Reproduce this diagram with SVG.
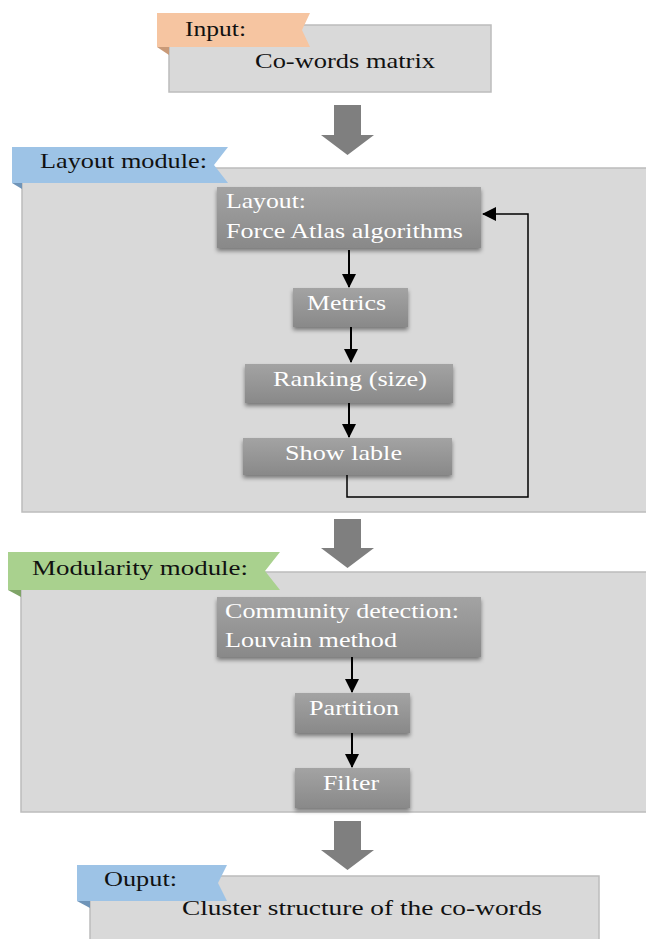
<svg xmlns="http://www.w3.org/2000/svg" width="646" height="939" viewBox="0 0 646 939">
  <defs>
    <linearGradient id="nodeFill" x1="0" y1="0" x2="0" y2="1">
      <stop offset="0" stop-color="#a3a3a3"/>
      <stop offset="1" stop-color="#898989"/>
    </linearGradient>
    <filter id="shadow" x="-10%" y="-20%" width="120%" height="160%">
      <feDropShadow dx="0" dy="3" stdDeviation="2" flood-color="#000" flood-opacity="0.45"/>
    </filter>
    <marker id="head" markerUnits="userSpaceOnUse" markerWidth="14" markerHeight="14" viewBox="0 0 14 14" refX="13" refY="7" orient="auto">
      <path d="M0,0 L14,7 L0,14 Z" fill="#000"/>
    </marker>
  </defs>
  <style>
    .panel { fill: #d9d9d9; stroke: #bcbcbc; stroke-width: 1.5; }
    .node { fill: url(#nodeFill); filter: url(#shadow); }
    .ntext { font-family: "Liberation Serif", "Times New Roman", serif; font-size: 21px; fill: #ffffff; }
    .ttext { font-family: "Liberation Serif", "Times New Roman", serif; font-size: 21px; fill: #111111; }
    .big { fill: #7f7f7f; }
    .link { fill: none; stroke: #000; stroke-width: 2; }
    .loop { fill: none; stroke: #000; stroke-width: 1.5; }
  </style>

  <!-- input block -->
  <g id="input">
    <rect class="panel" x="169" y="25" width="322" height="67"/>
    <polygon points="157,13 310,13 302,30 310,47 157,47" fill="#f6c5a1"/>
    <polygon points="157,47 169,47 169,55" fill="#c99a78"/>
    <text class="ttext" x="185" y="36" textLength="61" lengthAdjust="spacingAndGlyphs">Input:</text>
    <text class="ttext" x="255" y="68" font-size="22" textLength="180" lengthAdjust="spacingAndGlyphs">Co-words matrix</text>
  </g>

  <!-- layout module -->
  <g id="layout-module">
    <rect class="panel" x="22" y="168" width="632" height="344"/>
    <polygon points="12,147 228,147 214,165 228,183 12,183" fill="#9dc3e6"/>
    <polygon points="12,183 22,183 22,189" fill="#6f94b8"/>
    <text class="ttext" x="40" y="168" textLength="167" lengthAdjust="spacingAndGlyphs">Layout module:</text>
  </g>
  <g id="node-force-atlas">
    <rect class="node" x="217" y="187" width="264" height="61"/>
    <text class="ntext" x="226" y="208" textLength="80" lengthAdjust="spacingAndGlyphs">Layout:</text>
    <text class="ntext" x="226" y="238" textLength="237" lengthAdjust="spacingAndGlyphs">Force Atlas algorithms</text>
  </g>
  <g id="node-metrics">
    <rect class="node" x="293" y="288" width="115" height="39"/>
    <text class="ntext" x="307" y="310" textLength="79" lengthAdjust="spacingAndGlyphs">Metrics</text>
  </g>
  <g id="node-ranking">
    <rect class="node" x="245" y="364" width="208" height="39"/>
    <text class="ntext" x="273" y="386" textLength="154" lengthAdjust="spacingAndGlyphs">Ranking (size)</text>
  </g>
  <g id="node-show-label">
    <rect class="node" x="243" y="438" width="209" height="37"/>
    <text class="ntext" x="285" y="460" textLength="117" lengthAdjust="spacingAndGlyphs">Show lable</text>
  </g>

  <!-- modularity module -->
  <g id="modularity-module">
    <rect class="panel" x="21" y="572" width="632" height="240"/>
    <polygon points="8,552 280,552 265,571 280,590 8,590" fill="#a9d18e"/>
    <polygon points="8,590 21,590 21,597" fill="#7fa467"/>
    <text class="ttext" x="32" y="575" textLength="216" lengthAdjust="spacingAndGlyphs">Modularity module:</text>
  </g>
  <g id="node-louvain">
    <rect class="node" x="217" y="597" width="264" height="60"/>
    <text class="ntext" x="225" y="618" textLength="234" lengthAdjust="spacingAndGlyphs">Community detection:</text>
    <text class="ntext" x="225" y="647" textLength="172" lengthAdjust="spacingAndGlyphs">Louvain method</text>
  </g>
  <g id="node-partition">
    <rect class="node" x="295" y="693" width="115" height="40"/>
    <text class="ntext" x="309" y="715" textLength="90" lengthAdjust="spacingAndGlyphs">Partition</text>
  </g>
  <g id="node-filter">
    <rect class="node" x="295" y="768" width="115" height="40"/>
    <text class="ntext" x="323" y="790" textLength="56" lengthAdjust="spacingAndGlyphs">Filter</text>
  </g>

  <!-- output block -->
  <g id="output">
    <rect class="panel" x="90" y="876" width="509" height="70"/>
    <polygon points="77,865 227,865 218,883 227,901 77,901" fill="#9dc3e6"/>
    <polygon points="77,901 90,901 90,908" fill="#6f94b8"/>
    <text class="ttext" x="104" y="886" textLength="73" lengthAdjust="spacingAndGlyphs">Ouput:</text>
    <text class="ttext" x="182" y="915" font-size="22" textLength="360" lengthAdjust="spacingAndGlyphs">Cluster structure of the co-words</text>
  </g>

  <!-- connectors -->
  <g id="connectors">
    <polygon class="big" points="334,105 361,105 361,135 374,135 347.5,155 321,135 334,135"/>
    <polygon class="big" points="334,519 361,519 361,548 374,548 347.5,568 321,548 334,548"/>
    <polygon class="big" points="334,821 361,821 361,850 374,850 347.5,870 321,850 334,850"/>
    <line class="link" x1="349" y1="250" x2="349" y2="287" marker-end="url(#head)"/>
    <line class="link" x1="351" y1="327" x2="351" y2="362" marker-end="url(#head)"/>
    <line class="link" x1="349" y1="403" x2="349" y2="437" marker-end="url(#head)"/>
    <polyline class="loop" points="347,475 347,497 528,497 528,214 483,214" marker-end="url(#head)"/>
    <line class="link" x1="352" y1="657" x2="352" y2="692" marker-end="url(#head)"/>
    <line class="link" x1="352" y1="733" x2="352" y2="767" marker-end="url(#head)"/>
  </g>
</svg>
